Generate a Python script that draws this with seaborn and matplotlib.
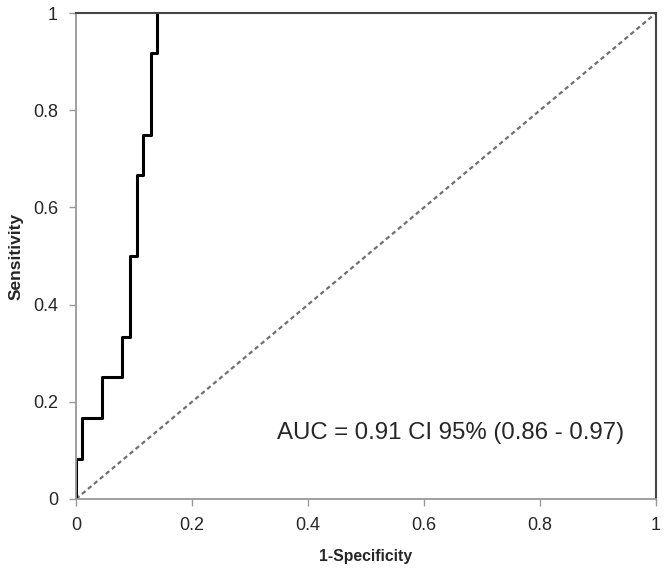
import seaborn as sns
import matplotlib.pyplot as plt
import pandas as pd

# ROC points
fpr = [0, 0, 0.01, 0.045, 0.08, 0.093, 0.105, 0.116, 0.129, 0.14]
tpr = [0, 0.083, 0.167, 0.25, 0.333, 0.5, 0.667, 0.75, 0.917, 1.0]
ref_x = [0, 1]
ref_y = [0, 1]
ticks = [0, 0.2, 0.4, 0.6, 0.8, 1]
tick_labels = ["0", "0.2", "0.4", "0.6", "0.8", "1"]
auc_text = "AUC = 0.91 CI 95% (0.86 - 0.97)"

sns.set_style("white")
plt.rcParams['font.family'] = ['Liberation Sans', 'DejaVu Sans']

roc = pd.DataFrame({"fpr": fpr, "tpr": tpr})
diag = pd.DataFrame({"x": ref_x, "y": ref_y})

fig = plt.figure(figsize=(6.64, 5.74), dpi=100)
ax = fig.add_axes([0.1145, 0.1307, 0.8735, 0.8466])

sns.lineplot(data=diag, x="x", y="y", ax=ax, color="#707070", linestyle=(0, (2, 1.5)),
             linewidth=1.6, sort=False, estimator=None)
sns.lineplot(data=roc, x="fpr", y="tpr", ax=ax, color="black", linewidth=2.2,
             drawstyle="steps-post", sort=False, estimator=None)

ax.set_xlim(0, 1)
ax.set_ylim(0, 1)
ax.set_xticks(ticks)
ax.set_xticklabels(tick_labels)
ax.set_yticks(ticks)
ax.set_yticklabels(tick_labels)
ax.tick_params(axis="both", length=5, width=1, color="#999999", labelsize=13, pad=8,
               direction="out", bottom=True, left=True)

for side in ["left", "bottom"]:
    ax.spines[side].set_color("#999999")
    ax.spines[side].set_linewidth(1.3)
for side in ["top", "right"]:
    ax.spines[side].set_color("#444444")
    ax.spines[side].set_linewidth(1.5)

ax.set_xlabel("1-Specificity", fontsize=11.3, fontweight="bold", labelpad=11)
ax.set_ylabel("Sensitivity", fontsize=12.5, fontweight="bold")
ax.yaxis.set_label_coords(-0.09, 0.5)

ax.text(0.347, 0.136, auc_text, fontsize=17.3, va="center", ha="left")

fig.savefig("out.png", dpi=100)
